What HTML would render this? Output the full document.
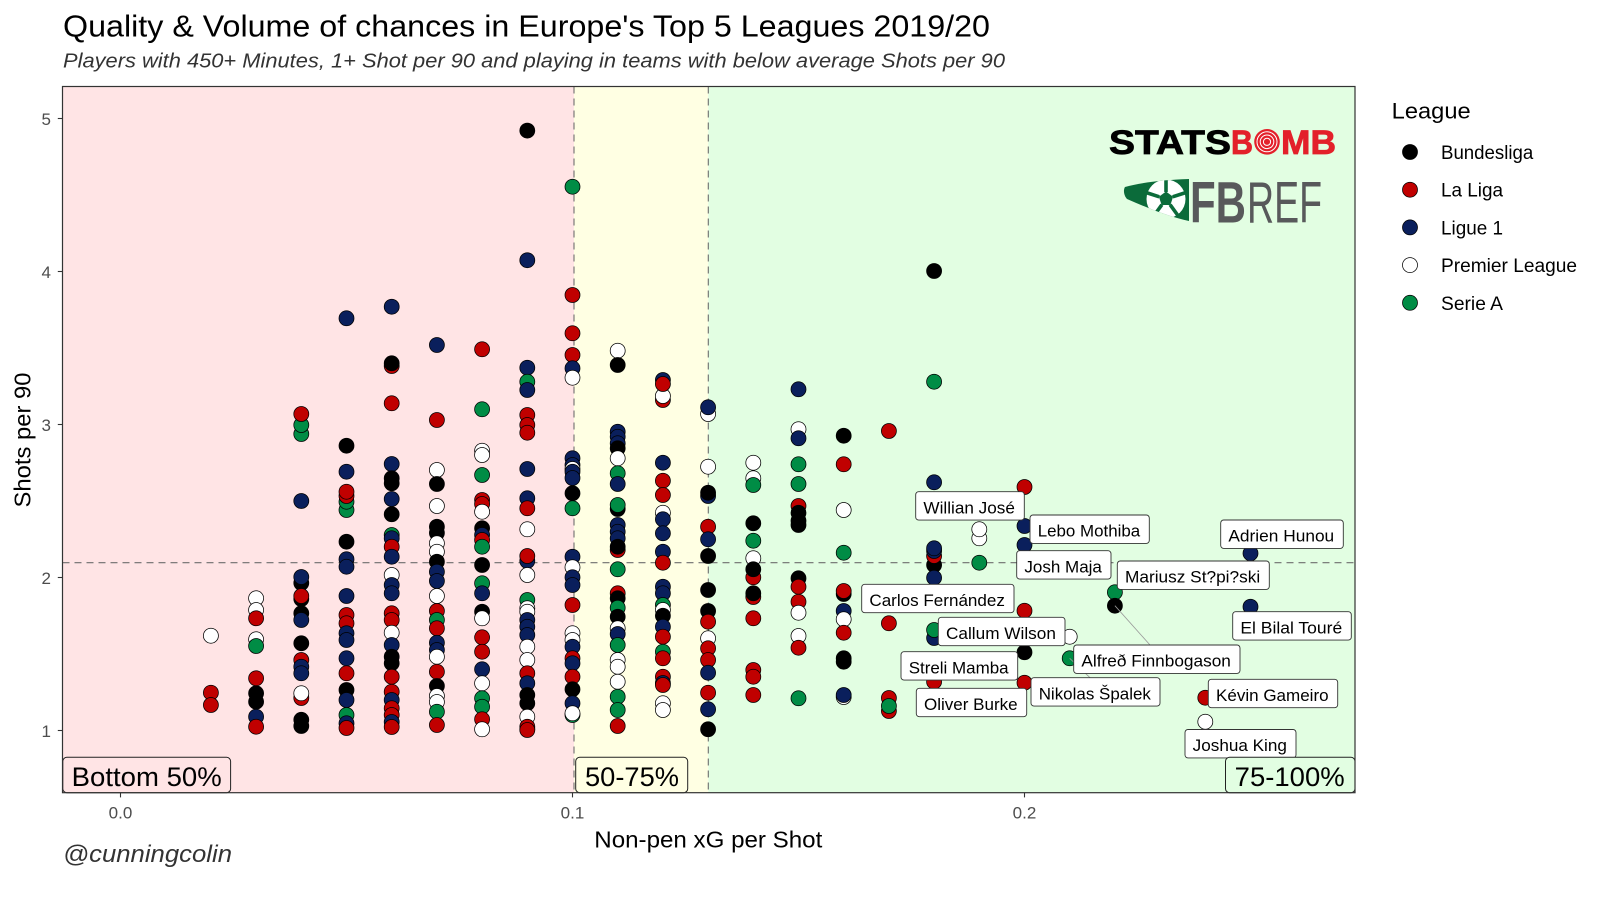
<!DOCTYPE html>
<html><head><meta charset="utf-8">
<style>
html,body{margin:0;padding:0;background:#fff;}
svg{display:block;font-family:"Liberation Sans","DejaVu Sans",sans-serif;}
.k{fill:#000}.r{fill:#C00000}.n{fill:#0A1F5C}.w{fill:#fff}.g{fill:#008C45}
.p circle{stroke:#000;stroke-width:0.75;}
.lab rect{fill:#fff;stroke:#333;stroke-width:0.9;}
.lab text{font-size:17px;fill:#000;}
.tk{font-size:17px;fill:#4D4D4D;}
</style></head>
<body>
<svg width="1600" height="902" viewBox="0 0 1600 902" xmlns="http://www.w3.org/2000/svg">
<defs>
<clipPath id="flagclip"><path d="M1125,187 C1140,183 1160,180 1189,179 L1189,221 C1170,217 1150,209 1127,199 C1124,196 1123,190 1125,187 Z"/></clipPath>
</defs>
<rect x="0" y="0" width="1600" height="902" fill="#fff"/>
<!-- titles -->
<text x="63" y="36.5" font-size="31" fill="#000" textLength="927" lengthAdjust="spacingAndGlyphs">Quality &amp; Volume of chances in Europe's Top 5 Leagues 2019/20</text>
<text x="63" y="67.5" font-size="20.5" font-style="italic" fill="#333" textLength="942" lengthAdjust="spacingAndGlyphs">Players with 450+ Minutes, 1+ Shot per 90 and playing in teams with below average Shots per 90</text>

<!-- panel backgrounds -->
<rect x="62.5" y="86.5" width="511.5" height="706.2" fill="#FFE4E5"/>
<rect x="574" y="86.5" width="134.3" height="706.2" fill="#FFFFE3"/>
<rect x="708.3" y="86.5" width="646.7" height="706.2" fill="#E2FEE2"/>

<!-- logos -->
<g>
<text x="1109" y="154" font-size="34" font-weight="bold" fill="#000" stroke="#000" stroke-width="0.8" textLength="122" lengthAdjust="spacingAndGlyphs">STATS</text>
<text x="1231" y="154" font-size="34" font-weight="bold" fill="#E3202A" stroke="#E3202A" stroke-width="0.8" textLength="22" lengthAdjust="spacingAndGlyphs">B</text>
<circle cx="1267" cy="141.8" r="12.8" fill="#E3202A"/>
<circle cx="1267" cy="141.8" r="10" fill="none" stroke="#fff" stroke-width="1"/>
<circle cx="1267" cy="141.8" r="6.8" fill="none" stroke="#fff" stroke-width="1"/>
<circle cx="1267" cy="141.8" r="3.6" fill="none" stroke="#fff" stroke-width="1"/>
<text x="1281" y="154" font-size="34" font-weight="bold" fill="#E3202A" stroke="#E3202A" stroke-width="0.8" textLength="55" lengthAdjust="spacingAndGlyphs">MB</text>
</g>
<g>
<g clip-path="url(#flagclip)">
<rect x="1120" y="175" width="72" height="50" fill="#0B6B3A"/>
<circle cx="1166" cy="199" r="19.5" fill="#fff"/>
<g stroke="#0B6B3A" stroke-width="3.6">
<line x1="1166" y1="192" x2="1166" y2="178"/>
<line x1="1172.7" y1="196.8" x2="1186" y2="192.5"/>
<line x1="1170.1" y1="204.7" x2="1178.3" y2="216"/>
<line x1="1161.9" y1="204.7" x2="1153.7" y2="216"/>
<line x1="1159.3" y1="196.8" x2="1146" y2="192.5"/>
</g>
<polygon points="1166,191.5 1173.1,196.7 1170.4,205 1161.6,205 1158.9,196.7" fill="#0B6B3A"/>
<polygon points="1166,180 1170,177 1162,177" fill="#0B6B3A"/>
</g>
<text x="1190" y="222.5" font-size="58.5" font-weight="bold" fill="#58595B" textLength="56" lengthAdjust="spacingAndGlyphs">FB</text>
<text x="1247" y="222.5" font-size="58.5" fill="#58595B" textLength="75" lengthAdjust="spacingAndGlyphs">REF</text>
</g>

<!-- dashed reference lines -->
<g stroke="#6E6E6E" stroke-width="1.1" stroke-dasharray="7,5" fill="none">
<line x1="574" y1="86.5" x2="574" y2="792.7"/>
<line x1="708.3" y1="86.5" x2="708.3" y2="792.7"/>
<line x1="62.5" y1="562.7" x2="1355" y2="562.7"/>
</g>

<!-- points -->
<g class="p">
<!-- 0.02 -->
<circle class="w" cx="210.9" cy="635.7" r="7.5"/><circle class="r" cx="210.9" cy="692.7" r="7.5"/><circle class="r" cx="210.9" cy="705" r="7.5"/>
<!-- 0.03 -->
<circle class="w" cx="256.1" cy="598.3" r="7.5"/><circle class="w" cx="256.1" cy="610" r="7.5"/><circle class="r" cx="256.1" cy="618.3" r="7.5"/><circle class="w" cx="256.1" cy="639.3" r="7.5"/><circle class="g" cx="256.1" cy="646" r="7.5"/><circle class="r" cx="256.1" cy="678.3" r="7.5"/><circle class="k" cx="256.1" cy="693.3" r="7.5"/><circle class="k" cx="256.1" cy="701.7" r="7.5"/><circle class="n" cx="256.1" cy="716.7" r="7.5"/><circle class="r" cx="256.1" cy="726.7" r="7.5"/>
<!-- 0.04 -->
<circle class="g" cx="301.3" cy="434" r="7.5"/><circle class="g" cx="301.3" cy="425" r="7.5"/><circle class="r" cx="301.3" cy="414" r="7.5"/><circle class="n" cx="301.3" cy="501" r="7.5"/><circle class="k" cx="301.3" cy="583" r="7.5"/><circle class="n" cx="301.3" cy="577" r="7.5"/><circle class="k" cx="301.3" cy="599" r="7.5"/><circle class="r" cx="301.3" cy="596" r="7.5"/><circle class="k" cx="301.3" cy="613.3" r="7.5"/><circle class="n" cx="301.3" cy="620" r="7.5"/><circle class="k" cx="301.3" cy="643.3" r="7.5"/><circle class="r" cx="301.3" cy="660" r="7.5"/><circle class="n" cx="301.3" cy="666.7" r="7.5"/><circle class="n" cx="301.3" cy="673.3" r="7.5"/><circle class="r" cx="301.3" cy="698" r="7.5"/><circle class="w" cx="301.3" cy="693.3" r="7.5"/><circle class="k" cx="301.3" cy="719.8" r="7.5"/><circle class="k" cx="301.3" cy="726" r="7.5"/>
<!-- 0.05 -->
<circle class="n" cx="346.5" cy="318.3" r="7.5"/><circle class="k" cx="346.5" cy="445.7" r="7.5"/><circle class="n" cx="346.5" cy="471.7" r="7.5"/><circle class="g" cx="346.5" cy="510" r="7.5"/><circle class="g" cx="346.5" cy="501.7" r="7.5"/><circle class="r" cx="346.5" cy="496" r="7.5"/><circle class="r" cx="346.5" cy="491.7" r="7.5"/><circle class="k" cx="346.5" cy="541.7" r="7.5"/><circle class="n" cx="346.5" cy="559.3" r="7.5"/><circle class="n" cx="346.5" cy="566.7" r="7.5"/><circle class="n" cx="346.5" cy="596" r="7.5"/><circle class="r" cx="346.5" cy="615" r="7.5"/><circle class="r" cx="346.5" cy="623.3" r="7.5"/><circle class="n" cx="346.5" cy="633.3" r="7.5"/><circle class="n" cx="346.5" cy="640" r="7.5"/><circle class="n" cx="346.5" cy="658.3" r="7.5"/><circle class="r" cx="346.5" cy="673.3" r="7.5"/><circle class="k" cx="346.5" cy="690" r="7.5"/><circle class="n" cx="346.5" cy="700" r="7.5"/><circle class="g" cx="346.5" cy="715" r="7.5"/><circle class="n" cx="346.5" cy="723.3" r="7.5"/><circle class="r" cx="346.5" cy="728" r="7.5"/>
<!-- 0.06 -->
<circle class="n" cx="391.7" cy="306.7" r="7.5"/><circle class="r" cx="391.7" cy="366" r="7.5"/><circle class="k" cx="391.7" cy="363.3" r="7.5"/><circle class="r" cx="391.7" cy="403.3" r="7.5"/><circle class="n" cx="391.7" cy="464" r="7.5"/><circle class="k" cx="391.7" cy="478.3" r="7.5"/><circle class="k" cx="391.7" cy="483.3" r="7.5"/><circle class="n" cx="391.7" cy="499" r="7.5"/><circle class="k" cx="391.7" cy="514.3" r="7.5"/><circle class="g" cx="391.7" cy="535" r="7.5"/><circle class="n" cx="391.7" cy="538.3" r="7.5"/><circle class="r" cx="391.7" cy="546.7" r="7.5"/><circle class="n" cx="391.7" cy="556.7" r="7.5"/><circle class="w" cx="391.7" cy="575" r="7.5"/><circle class="n" cx="391.7" cy="585" r="7.5"/><circle class="n" cx="391.7" cy="593.3" r="7.5"/><circle class="r" cx="391.7" cy="613.3" r="7.5"/><circle class="r" cx="391.7" cy="620" r="7.5"/><circle class="w" cx="391.7" cy="632.7" r="7.5"/><circle class="n" cx="391.7" cy="645" r="7.5"/><circle class="k" cx="391.7" cy="656.7" r="7.5"/><circle class="k" cx="391.7" cy="663.3" r="7.5"/><circle class="r" cx="391.7" cy="676.7" r="7.5"/><circle class="r" cx="391.7" cy="691.7" r="7.5"/><circle class="n" cx="391.7" cy="700" r="7.5"/><circle class="r" cx="391.7" cy="708.3" r="7.5"/><circle class="r" cx="391.7" cy="715" r="7.5"/><circle class="n" cx="391.7" cy="722" r="7.5"/><circle class="r" cx="391.7" cy="727" r="7.5"/>
<!-- 0.07 -->
<circle class="n" cx="436.9" cy="345" r="7.5"/><circle class="r" cx="436.9" cy="420" r="7.5"/><circle class="w" cx="436.9" cy="470" r="7.5"/><circle class="k" cx="436.9" cy="484" r="7.5"/><circle class="w" cx="436.9" cy="506" r="7.5"/><circle class="k" cx="436.9" cy="526.7" r="7.5"/><circle class="k" cx="436.9" cy="533" r="7.5"/><circle class="w" cx="436.9" cy="543.3" r="7.5"/><circle class="w" cx="436.9" cy="551.7" r="7.5"/><circle class="k" cx="436.9" cy="561.7" r="7.5"/><circle class="n" cx="436.9" cy="571.7" r="7.5"/><circle class="n" cx="436.9" cy="581" r="7.5"/><circle class="w" cx="436.9" cy="596" r="7.5"/><circle class="r" cx="436.9" cy="611" r="7.5"/><circle class="g" cx="436.9" cy="620" r="7.5"/><circle class="r" cx="436.9" cy="628.3" r="7.5"/><circle class="n" cx="436.9" cy="642.7" r="7.5"/><circle class="n" cx="436.9" cy="650" r="7.5"/><circle class="w" cx="436.9" cy="656.7" r="7.5"/><circle class="r" cx="436.9" cy="671.7" r="7.5"/><circle class="k" cx="436.9" cy="686" r="7.5"/><circle class="w" cx="436.9" cy="696" r="7.5"/><circle class="w" cx="436.9" cy="702" r="7.5"/><circle class="g" cx="436.9" cy="711.7" r="7.5"/><circle class="r" cx="436.9" cy="725" r="7.5"/>
<!-- 0.08 -->
<circle class="r" cx="482.1" cy="349.3" r="7.5"/><circle class="g" cx="482.1" cy="409.3" r="7.5"/><circle class="w" cx="482.1" cy="450.7" r="7.5"/><circle class="w" cx="482.1" cy="455" r="7.5"/><circle class="g" cx="482.1" cy="475" r="7.5"/><circle class="r" cx="482.1" cy="500" r="7.5"/><circle class="r" cx="482.1" cy="504" r="7.5"/><circle class="w" cx="482.1" cy="511.7" r="7.5"/><circle class="k" cx="482.1" cy="528.3" r="7.5"/><circle class="n" cx="482.1" cy="535" r="7.5"/><circle class="r" cx="482.1" cy="540" r="7.5"/><circle class="g" cx="482.1" cy="546.7" r="7.5"/><circle class="k" cx="482.1" cy="565" r="7.5"/><circle class="g" cx="482.1" cy="583.3" r="7.5"/><circle class="n" cx="482.1" cy="593.3" r="7.5"/><circle class="k" cx="482.1" cy="611.7" r="7.5"/><circle class="w" cx="482.1" cy="618.3" r="7.5"/><circle class="r" cx="482.1" cy="637.3" r="7.5"/><circle class="r" cx="482.1" cy="651.7" r="7.5"/><circle class="n" cx="482.1" cy="669.3" r="7.5"/><circle class="w" cx="482.1" cy="683.3" r="7.5"/><circle class="g" cx="482.1" cy="698.3" r="7.5"/><circle class="g" cx="482.1" cy="706.7" r="7.5"/><circle class="r" cx="482.1" cy="719.3" r="7.5"/><circle class="w" cx="482.1" cy="729.3" r="7.5"/>
<!-- 0.09 -->
<circle class="k" cx="527.3" cy="130.6" r="7.5"/><circle class="n" cx="527.3" cy="260.2" r="7.5"/><circle class="n" cx="527.3" cy="367.7" r="7.5"/><circle class="g" cx="527.3" cy="381.7" r="7.5"/><circle class="n" cx="527.3" cy="390" r="7.5"/><circle class="r" cx="527.3" cy="415" r="7.5"/><circle class="r" cx="527.3" cy="425" r="7.5"/><circle class="r" cx="527.3" cy="432.7" r="7.5"/><circle class="n" cx="527.3" cy="469" r="7.5"/><circle class="n" cx="527.3" cy="498.3" r="7.5"/><circle class="r" cx="527.3" cy="508.3" r="7.5"/><circle class="w" cx="527.3" cy="529.3" r="7.5"/><circle class="n" cx="527.3" cy="561" r="7.5"/><circle class="r" cx="527.3" cy="556" r="7.5"/><circle class="w" cx="527.3" cy="575" r="7.5"/><circle class="g" cx="527.3" cy="600" r="7.5"/><circle class="w" cx="527.3" cy="608.3" r="7.5"/><circle class="w" cx="527.3" cy="611.7" r="7.5"/><circle class="n" cx="527.3" cy="620" r="7.5"/><circle class="n" cx="527.3" cy="626.7" r="7.5"/><circle class="n" cx="527.3" cy="635" r="7.5"/><circle class="w" cx="527.3" cy="646.7" r="7.5"/><circle class="w" cx="527.3" cy="660" r="7.5"/><circle class="r" cx="527.3" cy="673.3" r="7.5"/><circle class="n" cx="527.3" cy="683.3" r="7.5"/><circle class="k" cx="527.3" cy="695" r="7.5"/><circle class="k" cx="527.3" cy="703.3" r="7.5"/><circle class="w" cx="527.3" cy="716.7" r="7.5"/><circle class="g" cx="527.3" cy="729" r="7.5"/><circle class="r" cx="527.3" cy="726.7" r="7.5"/><circle class="r" cx="527.3" cy="730" r="7.5"/>
<!-- 0.10 -->
<circle class="g" cx="572.5" cy="186.7" r="7.5"/><circle class="r" cx="572.5" cy="295" r="7.5"/><circle class="r" cx="572.5" cy="333.3" r="7.5"/><circle class="r" cx="572.5" cy="355" r="7.5"/><circle class="n" cx="572.5" cy="368.3" r="7.5"/><circle class="w" cx="572.5" cy="377.7" r="7.5"/><circle class="n" cx="572.5" cy="458.3" r="7.5"/><circle class="n" cx="572.5" cy="465" r="7.5"/><circle class="w" cx="572.5" cy="469" r="7.5"/><circle class="n" cx="572.5" cy="471.7" r="7.5"/><circle class="n" cx="572.5" cy="478" r="7.5"/><circle class="k" cx="572.5" cy="493.3" r="7.5"/><circle class="g" cx="572.5" cy="508.3" r="7.5"/><circle class="n" cx="572.5" cy="556.7" r="7.5"/><circle class="w" cx="572.5" cy="567.3" r="7.5"/><circle class="n" cx="572.5" cy="577.3" r="7.5"/><circle class="n" cx="572.5" cy="585" r="7.5"/><circle class="r" cx="572.5" cy="605" r="7.5"/><circle class="w" cx="572.5" cy="633.3" r="7.5"/><circle class="w" cx="572.5" cy="640" r="7.5"/><circle class="n" cx="572.5" cy="646.7" r="7.5"/><circle class="r" cx="572.5" cy="658.3" r="7.5"/><circle class="n" cx="572.5" cy="663.3" r="7.5"/><circle class="r" cx="572.5" cy="676.7" r="7.5"/><circle class="k" cx="572.5" cy="689.3" r="7.5"/><circle class="n" cx="572.5" cy="703.3" r="7.5"/><circle class="g" cx="572.5" cy="715" r="7.5"/><circle class="w" cx="572.5" cy="713.3" r="7.5"/>
<!-- 0.11 -->
<circle class="w" cx="617.7" cy="350.7" r="7.5"/><circle class="k" cx="617.7" cy="365" r="7.5"/><circle class="n" cx="617.7" cy="431.7" r="7.5"/><circle class="n" cx="617.7" cy="436.7" r="7.5"/><circle class="n" cx="617.7" cy="443.3" r="7.5"/><circle class="k" cx="617.7" cy="448.3" r="7.5"/><circle class="w" cx="617.7" cy="458.3" r="7.5"/><circle class="g" cx="617.7" cy="473.3" r="7.5"/><circle class="n" cx="617.7" cy="484" r="7.5"/><circle class="k" cx="617.7" cy="509" r="7.5"/><circle class="g" cx="617.7" cy="505" r="7.5"/><circle class="n" cx="617.7" cy="525" r="7.5"/><circle class="n" cx="617.7" cy="531.7" r="7.5"/><circle class="n" cx="617.7" cy="538.3" r="7.5"/><circle class="r" cx="617.7" cy="550" r="7.5"/><circle class="k" cx="617.7" cy="546.7" r="7.5"/><circle class="g" cx="617.7" cy="569.3" r="7.5"/><circle class="r" cx="617.7" cy="593.3" r="7.5"/><circle class="k" cx="617.7" cy="598.3" r="7.5"/><circle class="g" cx="617.7" cy="607.7" r="7.5"/><circle class="k" cx="617.7" cy="616.7" r="7.5"/><circle class="w" cx="617.7" cy="628.3" r="7.5"/><circle class="n" cx="617.7" cy="634" r="7.5"/><circle class="g" cx="617.7" cy="645" r="7.5"/><circle class="w" cx="617.7" cy="660" r="7.5"/><circle class="w" cx="617.7" cy="666.7" r="7.5"/><circle class="w" cx="617.7" cy="681.7" r="7.5"/><circle class="g" cx="617.7" cy="696.7" r="7.5"/><circle class="g" cx="617.7" cy="710" r="7.5"/><circle class="r" cx="617.7" cy="726" r="7.5"/>
<!-- 0.12 -->
<circle class="n" cx="662.9" cy="380" r="7.5"/><circle class="r" cx="662.9" cy="400" r="7.5"/><circle class="w" cx="662.9" cy="396" r="7.5"/><circle class="r" cx="662.9" cy="384" r="7.5"/><circle class="n" cx="662.9" cy="462.7" r="7.5"/><circle class="r" cx="662.9" cy="480.7" r="7.5"/><circle class="r" cx="662.9" cy="495" r="7.5"/><circle class="w" cx="662.9" cy="512.7" r="7.5"/><circle class="n" cx="662.9" cy="519.3" r="7.5"/><circle class="n" cx="662.9" cy="533.3" r="7.5"/><circle class="n" cx="662.9" cy="551.7" r="7.5"/><circle class="r" cx="662.9" cy="562.7" r="7.5"/><circle class="n" cx="662.9" cy="586.7" r="7.5"/><circle class="n" cx="662.9" cy="593.3" r="7.5"/><circle class="g" cx="662.9" cy="605" r="7.5"/><circle class="w" cx="662.9" cy="610" r="7.5"/><circle class="k" cx="662.9" cy="615.7" r="7.5"/><circle class="n" cx="662.9" cy="626.7" r="7.5"/><circle class="r" cx="662.9" cy="636.7" r="7.5"/><circle class="g" cx="662.9" cy="651.7" r="7.5"/><circle class="r" cx="662.9" cy="658.3" r="7.5"/><circle class="r" cx="662.9" cy="676.7" r="7.5"/><circle class="n" cx="662.9" cy="683" r="7.5"/><circle class="r" cx="662.9" cy="685" r="7.5"/><circle class="w" cx="662.9" cy="703.3" r="7.5"/><circle class="w" cx="662.9" cy="710" r="7.5"/>
<!-- 0.13 -->
<circle class="w" cx="708.1" cy="414" r="7.5"/><circle class="n" cx="708.1" cy="407.3" r="7.5"/><circle class="w" cx="708.1" cy="466.7" r="7.5"/><circle class="n" cx="708.1" cy="496" r="7.5"/><circle class="k" cx="708.1" cy="492.7" r="7.5"/><circle class="r" cx="708.1" cy="526.7" r="7.5"/><circle class="n" cx="708.1" cy="539.3" r="7.5"/><circle class="k" cx="708.1" cy="556" r="7.5"/><circle class="k" cx="708.1" cy="590" r="7.5"/><circle class="k" cx="708.1" cy="611" r="7.5"/><circle class="r" cx="708.1" cy="621.7" r="7.5"/><circle class="w" cx="708.1" cy="638.3" r="7.5"/><circle class="r" cx="708.1" cy="648.3" r="7.5"/><circle class="r" cx="708.1" cy="660" r="7.5"/><circle class="n" cx="708.1" cy="672.7" r="7.5"/><circle class="r" cx="708.1" cy="692.7" r="7.5"/><circle class="n" cx="708.1" cy="709.3" r="7.5"/><circle class="k" cx="708.1" cy="729.3" r="7.5"/>
<!-- 0.14 -->
<circle class="w" cx="753.3" cy="462.7" r="7.5"/><circle class="w" cx="753.3" cy="478.3" r="7.5"/><circle class="g" cx="753.3" cy="485" r="7.5"/><circle class="k" cx="753.3" cy="523.3" r="7.5"/><circle class="g" cx="753.3" cy="540.7" r="7.5"/><circle class="w" cx="753.3" cy="558.3" r="7.5"/><circle class="r" cx="753.3" cy="577.3" r="7.5"/><circle class="k" cx="753.3" cy="569.3" r="7.5"/><circle class="r" cx="753.3" cy="597" r="7.5"/><circle class="k" cx="753.3" cy="593.3" r="7.5"/><circle class="r" cx="753.3" cy="618.3" r="7.5"/><circle class="r" cx="753.3" cy="670" r="7.5"/><circle class="r" cx="753.3" cy="676.7" r="7.5"/><circle class="r" cx="753.3" cy="695" r="7.5"/>
<!-- 0.15 -->
<circle class="n" cx="798.5" cy="389.3" r="7.5"/><circle class="w" cx="798.5" cy="429.3" r="7.5"/><circle class="n" cx="798.5" cy="438.3" r="7.5"/><circle class="g" cx="798.5" cy="464.3" r="7.5"/><circle class="g" cx="798.5" cy="484" r="7.5"/><circle class="r" cx="798.5" cy="506" r="7.5"/><circle class="k" cx="798.5" cy="512.7" r="7.5"/><circle class="k" cx="798.5" cy="520.7" r="7.5"/><circle class="k" cx="798.5" cy="525" r="7.5"/><circle class="k" cx="798.5" cy="578.3" r="7.5"/><circle class="r" cx="798.5" cy="586.7" r="7.5"/><circle class="r" cx="798.5" cy="601.7" r="7.5"/><circle class="w" cx="798.5" cy="612.7" r="7.5"/><circle class="w" cx="798.5" cy="636" r="7.5"/><circle class="r" cx="798.5" cy="647.7" r="7.5"/><circle class="g" cx="798.5" cy="698.3" r="7.5"/>
<!-- 0.16 -->
<circle class="k" cx="843.7" cy="435.7" r="7.5"/><circle class="r" cx="843.7" cy="464.3" r="7.5"/><circle class="w" cx="843.7" cy="510" r="7.5"/><circle class="g" cx="843.7" cy="552.7" r="7.5"/><circle class="k" cx="843.7" cy="594" r="7.5"/><circle class="r" cx="843.7" cy="591" r="7.5"/><circle class="n" cx="843.7" cy="611" r="7.5"/><circle class="w" cx="843.7" cy="619.3" r="7.5"/><circle class="r" cx="843.7" cy="632.7" r="7.5"/><circle class="k" cx="843.7" cy="658.3" r="7.5"/><circle class="k" cx="843.7" cy="661.7" r="7.5"/><circle class="w" cx="843.7" cy="697" r="7.5"/><circle class="n" cx="843.7" cy="695" r="7.5"/>
<!-- 0.17 -->
<circle class="r" cx="888.9" cy="431" r="7.5"/><circle class="r" cx="888.9" cy="623.3" r="7.5"/><circle class="r" cx="888.9" cy="698" r="7.5"/><circle class="r" cx="888.9" cy="711" r="7.5"/><circle class="g" cx="888.9" cy="706" r="7.5"/>
<!-- 0.18 -->
<circle class="k" cx="934.1" cy="271" r="7.5"/><circle class="g" cx="934.1" cy="381.7" r="7.5"/><circle class="n" cx="934.1" cy="482.3" r="7.5"/><circle class="k" cx="934.1" cy="565" r="7.5"/><circle class="r" cx="934.1" cy="556" r="7.5"/><circle class="n" cx="934.1" cy="551" r="7.5"/><circle class="n" cx="934.1" cy="548.3" r="7.5"/><circle class="n" cx="934.1" cy="577.7" r="7.5"/><circle class="n" cx="934.1" cy="638" r="7.5"/><circle class="g" cx="934.1" cy="630" r="7.5"/><circle class="r" cx="934.1" cy="681.7" r="7.5"/>
<!-- 0.19 -->
<circle class="w" cx="979.3" cy="538.3" r="7.5"/><circle class="w" cx="979.3" cy="529.3" r="7.5"/><circle class="g" cx="979.3" cy="562.7" r="7.5"/>
<!-- 0.20 -->
<circle class="r" cx="1024.5" cy="487" r="7.5"/><circle class="n" cx="1024.5" cy="526" r="7.5"/><circle class="n" cx="1024.5" cy="545" r="7.5"/><circle class="r" cx="1024.5" cy="610.7" r="7.5"/><circle class="k" cx="1024.5" cy="652.3" r="7.5"/><circle class="r" cx="1024.5" cy="682.7" r="7.5"/>
<!-- 0.21 -->
<circle class="w" cx="1069.7" cy="636.7" r="7.5"/><circle class="g" cx="1069.7" cy="658.3" r="7.5"/>
<!-- 0.22 -->
<circle class="g" cx="1114.9" cy="592.3" r="7.5"/><circle class="k" cx="1114.9" cy="605.7" r="7.5"/>
<!-- 0.24 -->
<circle class="r" cx="1205.3" cy="697.7" r="7.5"/><circle class="w" cx="1205.3" cy="721.7" r="7.5"/>
<!-- 0.25 -->
<circle class="n" cx="1250.5" cy="553.3" r="7.5"/><circle class="n" cx="1250.5" cy="606.7" r="7.5"/>
</g>

<!-- leader lines -->
<g stroke="#9A9A9A" stroke-width="0.8">
<line x1="1114.9" y1="605.7" x2="1150" y2="645"/>
<line x1="1069.7" y1="658.3" x2="1090" y2="677.7"/>
</g>

<!-- player labels -->
<g class="lab">
<rect x="915.7" y="491.7" width="108.6" height="28.4" rx="3"/><text x="923.4" y="513.3" textLength="91.5" lengthAdjust="spacingAndGlyphs">Willian José</text>
<rect x="1030" y="515" width="119.3" height="28.4" rx="3"/><text x="1037.7" y="536.6" textLength="102.5" lengthAdjust="spacingAndGlyphs">Lebo Mothiba</text>
<rect x="1220.7" y="520" width="122.6" height="28.4" rx="3"/><text x="1228.4" y="541.6" textLength="105.8" lengthAdjust="spacingAndGlyphs">Adrien Hunou</text>
<rect x="1016.7" y="550.7" width="94.3" height="28.4" rx="3"/><text x="1024.4" y="572.3" textLength="77.5" lengthAdjust="spacingAndGlyphs">Josh Maja</text>
<rect x="1117.3" y="561" width="152" height="28.4" rx="3"/><text x="1125" y="582.6" textLength="135.2" lengthAdjust="spacingAndGlyphs">Mariusz St?pi?ski</text>
<rect x="861.7" y="584.3" width="152.3" height="28.4" rx="3"/><text x="869.4" y="605.9" textLength="135.5" lengthAdjust="spacingAndGlyphs">Carlos Fernández</text>
<rect x="1232.7" y="611.7" width="118.6" height="28.4" rx="3"/><text x="1240.4" y="633.3" textLength="101.8" lengthAdjust="spacingAndGlyphs">El Bilal Touré</text>
<rect x="938.3" y="617.3" width="126.7" height="28.4" rx="3"/><text x="946" y="638.9" textLength="109.9" lengthAdjust="spacingAndGlyphs">Callum Wilson</text>
<rect x="1073.7" y="645" width="166.3" height="28.4" rx="3"/><text x="1081.4" y="666.6" textLength="149.5" lengthAdjust="spacingAndGlyphs">Alfreð Finnbogason</text>
<rect x="901" y="651.7" width="116.7" height="28.4" rx="3"/><text x="908.7" y="673.3" textLength="99.9" lengthAdjust="spacingAndGlyphs">Streli Mamba</text>
<rect x="1031" y="677.7" width="129" height="28.4" rx="3"/><text x="1038.7" y="699.3" textLength="112.2" lengthAdjust="spacingAndGlyphs">Nikolas Špalek</text>
<rect x="1208.3" y="679.3" width="129.4" height="28.4" rx="3"/><text x="1216" y="700.9" textLength="112.6" lengthAdjust="spacingAndGlyphs">Kévin Gameiro</text>
<rect x="916.3" y="688.3" width="110.4" height="28.4" rx="3"/><text x="924" y="709.9" textLength="93.6" lengthAdjust="spacingAndGlyphs">Oliver Burke</text>
<rect x="1185" y="729.5" width="111" height="28.4" rx="3"/><text x="1192.7" y="751.1" textLength="94.2" lengthAdjust="spacingAndGlyphs">Joshua King</text>
</g>

<!-- quadrant labels -->
<g stroke="#222" stroke-width="1">
<rect x="62.8" y="757.3" width="167.8" height="35.4" rx="4" fill="#FFE4E5"/>
<rect x="575.7" y="757.3" width="112" height="35.4" rx="4" fill="#FFFFE3"/>
<rect x="1225.5" y="757.3" width="129.5" height="35.4" rx="4" fill="#E2FEE2"/>
</g>
<g font-size="27" fill="#000">
<text x="71.7" y="786" textLength="150" lengthAdjust="spacingAndGlyphs">Bottom 50%</text>
<text x="585" y="786" textLength="94" lengthAdjust="spacingAndGlyphs">50-75%</text>
<text x="1234.7" y="786" textLength="110" lengthAdjust="spacingAndGlyphs">75-100%</text>
</g>

<!-- panel border -->
<rect x="62.5" y="86.5" width="1292.5" height="706.2" fill="none" stroke="#333" stroke-width="1.2"/>

<!-- ticks -->
<g stroke="#333" stroke-width="1.1">
<line x1="57.8" y1="118.5" x2="62.5" y2="118.5"/>
<line x1="57.8" y1="271.5" x2="62.5" y2="271.5"/>
<line x1="57.8" y1="424.5" x2="62.5" y2="424.5"/>
<line x1="57.8" y1="577.5" x2="62.5" y2="577.5"/>
<line x1="57.8" y1="730.5" x2="62.5" y2="730.5"/>
<line x1="120.5" y1="792.7" x2="120.5" y2="797.4"/>
<line x1="572.5" y1="792.7" x2="572.5" y2="797.4"/>
<line x1="1024.5" y1="792.7" x2="1024.5" y2="797.4"/>
</g>
<g class="tk" text-anchor="end">
<text x="51" y="125">5</text>
<text x="51" y="278">4</text>
<text x="51" y="431">3</text>
<text x="51" y="584">2</text>
<text x="51" y="737">1</text>
</g>
<g class="tk" text-anchor="middle">
<text x="120.5" y="818.3">0.0</text>
<text x="572.5" y="818.3">0.1</text>
<text x="1024.5" y="818.3">0.2</text>
</g>

<!-- axis titles -->
<text x="594.3" y="847.7" font-size="23.5" fill="#000" textLength="228" lengthAdjust="spacingAndGlyphs">Non-pen xG per Shot</text>
<text transform="translate(30.6,440) rotate(-90)" text-anchor="middle" font-size="23.5" fill="#000" textLength="135" lengthAdjust="spacingAndGlyphs">Shots per 90</text>

<!-- caption -->
<text x="63" y="862" font-size="24" font-style="italic" fill="#333" textLength="169" lengthAdjust="spacingAndGlyphs">@cunningcolin</text>

<!-- legend -->
<text x="1391.7" y="118.3" font-size="22" fill="#000" textLength="79" lengthAdjust="spacingAndGlyphs">League</text>
<g class="p">
<circle class="k" cx="1410" cy="152" r="7.5"/>
<circle class="r" cx="1410" cy="189.7" r="7.5"/>
<circle class="n" cx="1410" cy="227.4" r="7.5"/>
<circle class="w" cx="1410" cy="265.1" r="7.5"/>
<circle class="g" cx="1410" cy="302.8" r="7.5"/>
</g>
<g font-size="19.3" fill="#000">
<text x="1441" y="159" textLength="92.3" lengthAdjust="spacingAndGlyphs">Bundesliga</text>
<text x="1441" y="196.7" textLength="62" lengthAdjust="spacingAndGlyphs">La Liga</text>
<text x="1441" y="234.4" textLength="62" lengthAdjust="spacingAndGlyphs">Ligue 1</text>
<text x="1441" y="272.1" textLength="136" lengthAdjust="spacingAndGlyphs">Premier League</text>
<text x="1441" y="309.8" textLength="62" lengthAdjust="spacingAndGlyphs">Serie A</text>
</g>
</svg>
</body></html>
